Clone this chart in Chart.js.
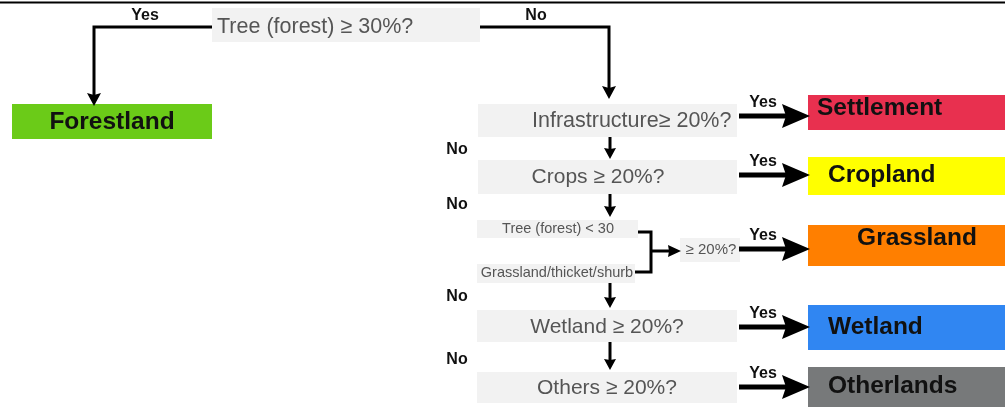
<!DOCTYPE html>
<html>
<head>
<meta charset="utf-8">
<script src="https://cdn.jsdelivr.net/npm/chart.js@4/dist/chart.umd.min.js"></script>
<style>
html,body{margin:0;padding:0;background:#fff}
canvas{display:block}
</style>
</head>
<body>
<canvas id="flowChart" width="1005" height="407"></canvas>
<script>
// texts of the decision steps
const questions = [
  "Tree (forest) \u2265 30%?",
  "Infrastructure\u2265 20%?",
  "Crops \u2265 20%?",
  "Tree (forest) < 30",
  "Grassland/thicket/shurb",
  "\u2265 20%?",
  "Wetland \u2265 20%?",
  "Others \u2265 20%?"
]

// land classes at the end of each branch
const classes = [
  "Forestland",
  "Settlement",
  "Cropland",
  "Grassland",
  "Wetland",
  "Otherlands"
]

const branchLabels = ["Yes", "No"]

// ---- layout (chart units, x 0..1005, y 0..407 top-down) ----
const questionBoxes = [
  {x0:212, y0:8,   x1:480, y1:42,  tx:217, ty:27,  align:"left",   size:21.5},
  {x0:478, y0:104, x1:737, y1:137, tx:532, ty:121, align:"left",   size:21.5},
  {x0:478, y0:160, x1:737, y1:194, tx:598, ty:177, align:"center", size:21},
  {x0:477, y0:220, x1:638, y1:238, tx:558, ty:229, align:"center", size:14.5},
  {x0:477, y0:264, x1:635, y1:283, tx:557, ty:273, align:"center", size:14.5},
  {x0:680, y0:238, x1:740, y1:262, tx:711, ty:250, align:"center", size:15},
  {x0:477, y0:310, x1:737, y1:342, tx:607, ty:327, align:"center", size:21},
  {x0:477, y0:372, x1:737, y1:403, tx:607, ty:388, align:"center", size:21}
]

const classBoxes = [
  {x0:12,  y0:104, x1:212,  y1:139, tx:112, ty:122, align:"center"},
  {x0:808, y0:95,  x1:1005, y1:130, tx:817, ty:108, align:"left"},
  {x0:808, y0:157, x1:1005, y1:195, tx:828, ty:175, align:"left"},
  {x0:808, y0:225, x1:1005, y1:266, tx:917, ty:238, align:"center"},
  {x0:808, y0:305, x1:1005, y1:350, tx:828, ty:327, align:"left"},
  {x0:808, y0:367, x1:1005, y1:407, tx:828, ty:386, align:"left"}
]

const classColors = ["#6bcb18", "#e8304f", "#ffff00", "#ff7f00", "#3086f2", "#77797a"]

// rows of the thick "Yes" arrows on the right
const yesRows = [116, 175, 249, 327, 387]
// short "down" arrows between the question boxes
const downArrows = [[137, 159], [194, 217], [283, 308], [342, 370]]
const noLabelRows = [150, 205, 297, 360]

const flowPlugin = {
  id: "flow",
  afterDraw(chart){
    const ctx = chart.ctx
    const sx = chart.scales.x
    const sy = chart.scales.y
    const px = v => sx.getPixelForValue(v)
    const py = v => sy.getPixelForValue(v)

    function box(b, fill){
      ctx.fillStyle = fill
      ctx.fillRect(px(b.x0), py(b.y0), px(b.x1) - px(b.x0), py(b.y1) - py(b.y0))
    }
    function text(str, x, y, font, color, align){
      ctx.font = font
      ctx.fillStyle = color
      ctx.textAlign = align
      ctx.textBaseline = "middle"
      ctx.fillText(str, px(x), py(y))
    }
    function line(pts, w){
      ctx.strokeStyle = "#000"
      ctx.lineWidth = w
      ctx.lineJoin = "miter"
      ctx.lineCap = "butt"
      ctx.beginPath()
      pts.forEach((p, i) => i ? ctx.lineTo(px(p[0]), py(p[1])) : ctx.moveTo(px(p[0]), py(p[1])))
      ctx.stroke()
    }
    // dir: "down" or "right"
    function head(tx, ty, dir, len, half, notch){
      ctx.fillStyle = "#000"
      ctx.beginPath()
      if(dir === "down"){
        ctx.moveTo(px(tx), py(ty))
        ctx.lineTo(px(tx - half), py(ty - len))
        ctx.lineTo(px(tx), py(ty - len + notch))
        ctx.lineTo(px(tx + half), py(ty - len))
      } else {
        ctx.moveTo(px(tx), py(ty))
        ctx.lineTo(px(tx - len), py(ty - half))
        ctx.lineTo(px(tx - len + notch), py(ty))
        ctx.lineTo(px(tx - len), py(ty + half))
      }
      ctx.closePath()
      ctx.fill()
    }

    ctx.save()

    // top rule
    line([[0, 2.5], [1005, 2.5]], 2)

    // question boxes
    questionBoxes.forEach((b, i) => {
      box(b, "#f2f2f2")
      text(questions[i], b.tx, b.ty, b.size + "px 'Liberation Sans', Arial, sans-serif", "#555", b.align)
    })

    // class boxes
    classBoxes.forEach((b, i) => {
      box(b, classColors[i])
      text(classes[i], b.tx, b.ty, "bold 24.5px 'Liberation Sans', Arial, sans-serif", "#111", b.align)
    })

    const lab = "bold 16px 'Liberation Sans', Arial, sans-serif"

    // first split
    line([[212, 27], [94, 27], [94, 98]], 3)
    head(94, 106, "down", 13, 7, 2)
    text(branchLabels[0], 145, 16, lab, "#111", "center")

    line([[480, 27], [609, 27], [609, 90]], 3)
    head(609, 99, "down", 13, 7, 2)
    text(branchLabels[1], 536, 16, lab, "#111", "center")

    // down arrows
    downArrows.forEach(d => {
      line([[610, d[0]], [610, d[1] - 8]], 3)
      head(610, d[1], "down", 11, 6, 1)
    })
    noLabelRows.forEach(r => text(branchLabels[1], 457, r, lab, "#111", "center"))

    // grassland bracket
    line([[638, 232], [651, 232], [651, 272], [635, 272]], 3)
    line([[651, 251], [670, 251]], 3)
    head(681, 251, "right", 13, 6, 1)

    // thick yes arrows
    yesRows.forEach(r => {
      line([[739, r], [790, r]], 5)
      head(810, r, "right", 28, 12, 4)
      text(branchLabels[0], 763, r - 13, lab, "#111", "center")
    })

    ctx.restore()
  }
}

const flowChart =
new Chart(document.getElementById("flowChart"), {

    type:"scatter",

    data:{
        datasets:[{
            data:[],
            pointRadius:0
        }]
    },

    options:{
        responsive:false,
        animation:false,
        events:[],
        layout:{padding:0},
        plugins:{
            legend:{display:false},
            tooltip:{enabled:false}
        },
        scales:{
            x:{type:"linear", min:0, max:1005, display:false},
            y:{type:"linear", min:0, max:407, reverse:true, display:false}
        }
    },

    plugins:[flowPlugin]
})
</script>
</body>
</html>
